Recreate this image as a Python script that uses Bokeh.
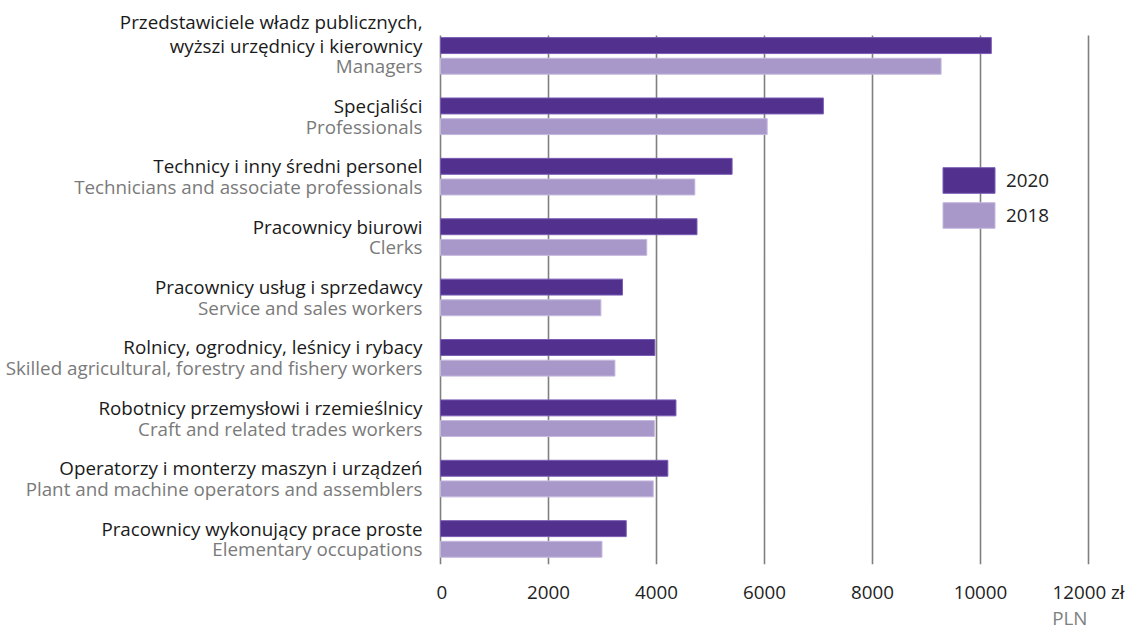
from bokeh.plotting import figure
from bokeh.models import (Range1d, ColumnDataSource, Legend, LegendItem,
                          FixedTicker, Title)
from bokeh.layouts import row
from bokeh.core.properties import value
from bokeh.embed import file_html
from bokeh.resources import INLINE

# ---------------- data ----------------
categories_pl = [
    "Przedstawiciele władz publicznych,\nwyższi urzędnicy i kierownicy",
    "Specjaliści",
    "Technicy i inny średni personel",
    "Pracownicy biurowi",
    "Pracownicy usług i sprzedawcy",
    "Rolnicy, ogrodnicy, leśnicy i rybacy",
    "Robotnicy przemysłowi i rzemieślnicy",
    "Operatorzy i monterzy maszyn i urządzeń",
    "Pracownicy wykonujący prace proste",
]
categories_en = [
    "Managers",
    "Professionals",
    "Technicians and associate professionals",
    "Clerks",
    "Service and sales workers",
    "Skilled agricultural, forestry and fishery workers",
    "Craft and related trades workers",
    "Plant and machine operators and assemblers",
    "Elementary occupations",
]
values_2020 = [10200, 7090, 5400, 4750, 3370, 3970, 4360, 4210, 3440]
values_2018 = [9270, 6050, 4710, 3820, 2970, 3230, 3960, 3940, 2990]
years = ["2020", "2018"]
x_ticks = [0, 2000, 4000, 6000, 8000, 10000, 12000]
x_tick_overrides = {12000: "12000 zł"}
unit_label = "PLN"

# ---------------- styles ----------------
C2020 = "#51308e"
C2018 = "#a898ca"
FONT = "Open Sans"
FS = "18.8px"
STEP_PX = 60.7
OFF = 0.171
BAR_H = 0.264
LINE_H = 24 / STEP_PX
GRID_TOP = 0.341
Y_LO = -8.423
TOP_PAD = 35
BOTTOM = 58
H = 625

n = len(categories_pl)
pos = [-i for i in range(n)]
y_range = Range1d(Y_LO, GRID_TOP + TOP_PAD / STEP_PX)

# ---------------- left label panel ----------------
pl_x, pl_y, pl_t = [], [], []
for i, txt in enumerate(categories_pl):
    lines = txt.split("\n")
    for k, line in enumerate(reversed(lines)):
        pl_x.append(422)
        pl_y.append(pos[i] + OFF + k * LINE_H)
        pl_t.append(line)
pl_src = ColumnDataSource(dict(x=pl_x, y=pl_y, t=pl_t))
en_src = ColumnDataSource(dict(x=[422] * n, y=[p_ - OFF for p_ in pos], t=categories_en))

lab = figure(width=436, height=H, output_backend="svg", toolbar_location=None,
             x_range=Range1d(0, 436), y_range=y_range,
             min_border_left=0, min_border_right=0, min_border_top=0,
             min_border_bottom=BOTTOM, x_axis_location=None, y_axis_location=None)
lab.outline_line_color = None
lab.grid.visible = False
lab.text(x="x", y="y", text="t", source=pl_src, text_align="right",
         text_baseline="middle", text_font=value(FONT), text_font_size=FS,
         text_color="#1a1a1a")
lab.text(x="x", y="y", text="t", source=en_src, text_align="right",
         text_baseline="middle", text_font=value(FONT), text_font_size=FS,
         text_color="#7a7a7a")

# ---------------- main chart ----------------
src = ColumnDataSource(dict(
    y20=[p_ + OFF for p_ in pos],
    y18=[p_ - OFF for p_ in pos],
    v20=values_2020,
    v18=values_2018,
))

p = figure(width=698, height=H, output_backend="svg", toolbar_location=None,
           x_range=Range1d(-74.07, 12074.07), y_range=y_range,
           min_border_left=0, min_border_right=42, min_border_top=0,
           min_border_bottom=BOTTOM, y_axis_location=None)
p.outline_line_color = None

p.ygrid.visible = False
grid_done = False
try:
    p.xgrid.cross_bounds = (Y_LO, GRID_TOP)
    grid_done = True
except Exception:
    grid_done = False
if grid_done:
    p.xgrid.ticker = FixedTicker(ticks=x_ticks)
    p.xgrid.grid_line_color = "#7f7f7f"
    p.xgrid.grid_line_width = 1.6
else:
    p.xgrid.visible = False
    p.segment(x0=x_ticks, x1=x_ticks, y0=[Y_LO] * len(x_ticks),
              y1=[GRID_TOP] * len(x_ticks), line_color="#7f7f7f",
              line_width=1.6, level="underlay")

r20 = p.hbar(y="y20", left=0, right="v20", height=BAR_H, source=src,
             fill_color=C2020, line_color="#7a5cb5", line_width=1)
r18 = p.hbar(y="y18", left=0, right="v18", height=BAR_H, source=src,
             fill_color=C2018, line_color="#c4b8de", line_width=1)

ax = p.xaxis[0]
ax.ticker = FixedTicker(ticks=x_ticks)
ax.major_label_overrides = x_tick_overrides
ax.axis_line_color = None
ax.major_tick_line_color = None
ax.minor_tick_line_color = None
ax.major_tick_out = 0
ax.major_tick_in = 0
ax.minor_tick_out = 0
ax.minor_tick_in = 0
ax.major_label_text_font = FONT
ax.major_label_text_font_size = FS
ax.major_label_text_color = "#222222"
ax.major_label_text_line_height = 1.0
ax.major_label_standoff = 14

p.add_layout(Title(text=unit_label, align="right", offset=5, standoff=-10,
                   text_font=FONT, text_font_size=FS, text_font_style="normal",
                   text_line_height=1.0, text_color="#808080"), "below")

# legend (bar legend glyphs are inset by 10% on each side)
legend = Legend(items=[LegendItem(label=years[0], renderers=[r20]),
                       LegendItem(label=years[1], renderers=[r18])],
                location=(500, 333), glyph_width=65, glyph_height=32,
                spacing=3, padding=0, margin=0, border_line_color=None,
                background_fill_alpha=0, label_text_font=FONT,
                label_text_font_size=FS, label_text_color="#222222",
                label_standoff=5)
p.add_layout(legend)

layout = row(lab, p, spacing=0)
open("out.html", "w").write(file_html(layout, INLINE))
